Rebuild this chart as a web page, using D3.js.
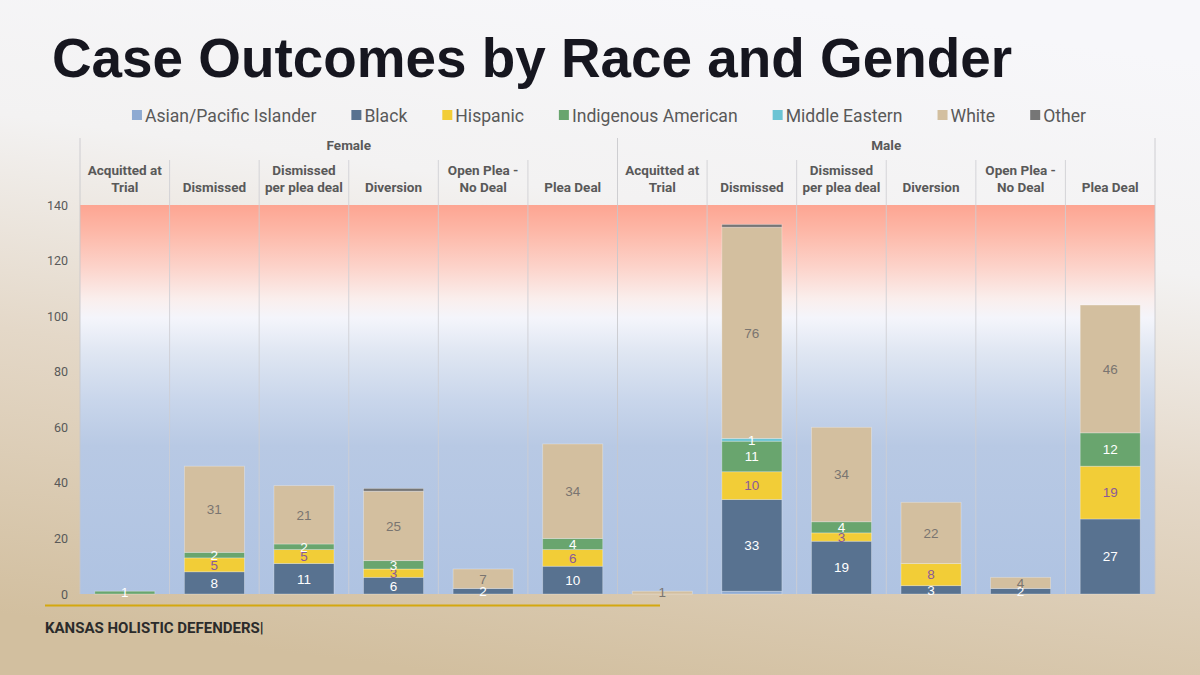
<!DOCTYPE html>
<html><head><meta charset="utf-8">
<script src="https://cdn.jsdelivr.net/npm/d3@7"></script>
<style>html,body{margin:0;padding:0;background:#f4f3f3;}svg{display:block;}</style>
</head><body>
<svg id="c" width="1200" height="675"></svg>
<script>
// ---- data ----
const genders = ["Female", "Male"];
const outcomes = ["Acquitted at Trial", "Dismissed", "Dismissed per plea deal", "Diversion", "Open Plea - No Deal", "Plea Deal"];
const outcomeLines = [["Acquitted at", "Trial"], ["Dismissed"], ["Dismissed", "per plea deal"], ["Diversion"], ["Open Plea -", "No Deal"], ["Plea Deal"]];
const races = ["Asian/Pacific Islander", "Black", "Hispanic", "Indigenous American", "Middle Eastern", "White", "Other"];
// values: Female (6 outcomes) then Male (6 outcomes)
const asianValues         = [0, 0, 0, 0, 0, 0,   0, 1, 0, 0, 0, 0];
const blackValues         = [0, 8, 11, 6, 2, 10,  0, 33, 19, 3, 2, 27];
const hispanicValues      = [0, 5, 5, 3, 0, 6,   0, 10, 3, 8, 0, 19];
const indigenousValues    = [1, 2, 2, 3, 0, 4,   0, 11, 4, 0, 0, 12];
const middleEasternValues = [0, 0, 0, 0, 0, 0,   0, 1, 0, 0, 0, 0];
const whiteValues         = [0, 31, 21, 25, 7, 34, 1, 76, 34, 22, 4, 46];
const otherValues         = [0, 0, 0, 1, 0, 0,   0, 1, 0, 0, 0, 0];
const yTicks = [0, 20, 40, 60, 80, 100, 120, 140];
const title = "Case Outcomes by Race and Gender";
const footer = "KANSAS HOLISTIC DEFENDERS|";

// ---- styling ----
const raceColors = ["#8eaad2", "#587290", "#f2cd37", "#69a56e", "#6cc4d4", "#d3bf9f", "#767676"];
const labelColors = [null, "#ffffff", "#8a5a9a", "#ffffff", "#ffffff", "#7a7570", null];
const seriesValues = [asianValues, blackValues, hispanicValues, indigenousValues, middleEasternValues, whiteValues, otherValues];

const svg = d3.select("#c");
const W = 1200, H = 675;
const defs = svg.append("defs");

// page background
const bg = defs.append("linearGradient").attr("id", "bg")
  .attr("x1", "0.62").attr("y1", "0").attr("x2", "0.38").attr("y2", "1");
bg.append("stop").attr("offset", "0").attr("stop-color", "#f7f7fa");
bg.append("stop").attr("offset", "0.3").attr("stop-color", "#f3f2f2");
bg.append("stop").attr("offset", "0.6").attr("stop-color", "#e4d8c8");
bg.append("stop").attr("offset", "1").attr("stop-color", "#d2bf9f");
svg.append("rect").attr("width", W).attr("height", H).attr("fill", "url(#bg)");

// plot gradient
const pg = defs.append("linearGradient").attr("id", "pg")
  .attr("x1", "0").attr("y1", "0").attr("x2", "0").attr("y2", "1");
[[0, "#fda592"], [0.07, "#fdb8a8"], [0.16, "#fcd3ca"], [0.24, "#faeeec"], [0.29, "#f4f5fb"],
 [0.38, "#dfe6f2"], [0.5, "#c9d6eb"], [0.62, "#b8c9e4"], [1, "#afc3e2"]]
  .forEach(([o, c]) => pg.append("stop").attr("offset", o).attr("stop-color", c));

const plot = {left: 80, right: 1155, top: 205, bottom: 594};
const headerTop = 138, subHeaderTop = 160;

const keys = [];
genders.forEach(g => outcomes.forEach(o => keys.push(g + "|" + o)));

const x = d3.scaleBand().domain(keys).range([plot.left, plot.right]).paddingInner(0.33).paddingOuter(0.165);
const y = d3.scaleLinear().domain([0, 140]).range([plot.bottom, plot.top]);

svg.append("rect").attr("x", plot.left).attr("y", plot.top)
  .attr("width", plot.right - plot.left).attr("height", plot.bottom - plot.top).attr("fill", "url(#pg)");

// title
svg.append("text").attr("x", 52).attr("y", 77).text(title)
  .attr("font-family", "Liberation Sans, Arial, sans-serif").attr("font-weight", 700)
  .attr("font-size", 56).attr("fill", "#16161f")
  .attr("textLength", 960).attr("lengthAdjust", "spacingAndGlyphs");

// legend
const legendG = svg.append("g").attr("font-family", "Roboto, sans-serif").attr("font-size", 17.6).attr("fill", "#595959");
let lx = 0;
races.forEach((r, i) => {
  const g = legendG.append("g");
  g.append("rect").attr("x", lx).attr("y", -6).attr("width", 10).attr("height", 10).attr("fill", raceColors[i]);
  const t = g.append("text").attr("x", lx + 13).attr("y", 0).attr("dy", "0.33em").text(r);
  const w = t.node().getComputedTextLength();
  lx += 13 + w + 35;
});
const legendW = lx - 35;
legendG.attr("transform", `translate(${609 - legendW / 2},116)`);

// header/grid lines
const step = x.step();
const gridColor = "#cfcfd4";
const boundaries = d3.range(keys.length + 1).map(i => plot.left + i * step);
boundaries.forEach((bx, i) => {
  const major = (i === 0 || i === outcomes.length || i === keys.length);
  svg.append("line").attr("x1", bx).attr("x2", bx)
    .attr("y1", major ? headerTop : subHeaderTop).attr("y2", plot.bottom)
    .attr("stroke", major ? "#c8c8cc" : gridColor).attr("stroke-width", 1)
    .attr("opacity", 0.85);
});

// gender labels
genders.forEach((g, gi) => {
  const cx = plot.left + (gi + 0.5) * outcomes.length * step;
  svg.append("text").attr("x", cx).attr("y", 150).attr("text-anchor", "middle")
    .attr("font-family", "Roboto, sans-serif").attr("font-weight", 700).attr("font-size", 13.5)
    .attr("fill", "#595959").text(g);
});

// outcome labels
keys.forEach((k, i) => {
  const lines = outcomeLines[i % outcomes.length];
  const cx = x(k) + x.bandwidth() / 2;
  const t = svg.append("text").attr("text-anchor", "middle")
    .attr("font-family", "Roboto, sans-serif").attr("font-weight", 700).attr("font-size", 13.5)
    .attr("fill", "#595959");
  lines.forEach((ln, li) => {
    t.append("tspan").attr("x", cx).attr("y", 192 - (lines.length - 1 - li) * 17).text(ln);
  });
});

// y axis
const yAxis = svg.append("g").attr("transform", `translate(${plot.left - 12},0)`)
  .call(d3.axisLeft(y).tickValues(yTicks).tickSize(0).tickPadding(0));
yAxis.select(".domain").remove();
yAxis.selectAll("text").attr("font-family", "Roboto, sans-serif").attr("font-size", 12.5).attr("fill", "#595959");

// stacked bars
const table = keys.map((k, i) => {
  const row = {key: k};
  races.forEach((r, ri) => row[r] = seriesValues[ri][i]);
  return row;
});
const stack = d3.stack().keys(races)(table);
stack.forEach((layer, li) => {
  const g = svg.append("g");
  g.selectAll("rect").data(layer.filter(d => d[1] - d[0] > 0)).join("rect")
    .attr("x", d => x(d.data.key)).attr("width", x.bandwidth())
    .attr("y", d => y(d[1])).attr("height", d => y(d[0]) - y(d[1]))
    .attr("fill", raceColors[li]).attr("stroke", "rgba(255,255,255,0.35)").attr("stroke-width", 0.8);
});
stack.forEach((layer, li) => {
  if (!labelColors[li]) return;
  svg.append("g").selectAll("text").data(layer.filter(d => d[1] - d[0] > 0)).join("text")
    .attr("x", d => x(d.data.key) + x.bandwidth() / 2)
    .attr("y", d => (y(d[0]) + y(d[1])) / 2).attr("dy", "0.36em")
    .attr("text-anchor", "middle")
    .attr("font-family", "Liberation Sans, Arial, sans-serif").attr("font-size", 13.5)
    .attr("fill", labelColors[li]).text(d => d[1] - d[0]);
});

// footer
svg.append("line").attr("x1", 45).attr("x2", 660).attr("y1", 605.5).attr("y2", 605.5)
  .attr("stroke", "#d4a80f").attr("stroke-width", 2);
svg.append("text").attr("x", 45).attr("y", 633).text(footer)
  .attr("font-family", "Roboto, sans-serif").attr("font-weight", 700).attr("font-size", 15)
  .attr("fill", "#2b2b2b");
</script>
</body></html>
